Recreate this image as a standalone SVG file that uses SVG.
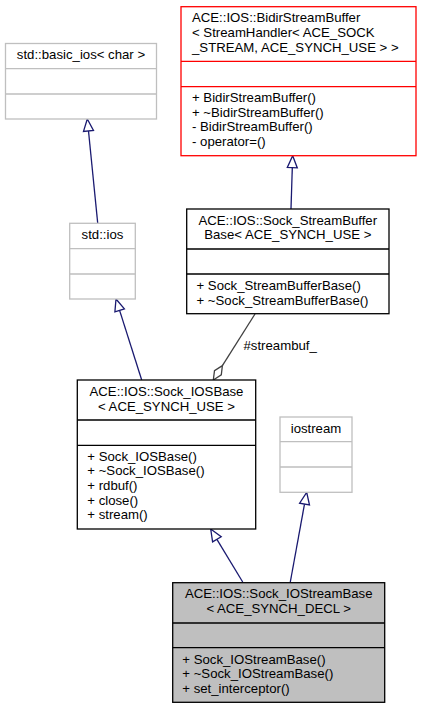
<svg xmlns="http://www.w3.org/2000/svg" width="421" height="709" viewBox="0 0 421 709">
<style>
text{font-family:"Liberation Sans",Arial,sans-serif;font-size:13.2px;fill:#000}
.c{text-anchor:middle}
.box{fill:#fff;stroke:#000;stroke-width:1.3}
.gray{fill:#fff;stroke:#bfbfbf;stroke-width:1.3}
.red{fill:#fff;stroke:#ff0000;stroke-width:1.3}
.cur{fill:#bfbfbf;stroke:#000;stroke-width:1.3}
.inh{stroke:#191970;stroke-width:1.3;fill:none}
.inhh{stroke:#191970;stroke-width:1.3;fill:#fff}
.agg{stroke:#404040;stroke-width:1.3;fill:none}
.aggh{stroke:#404040;stroke-width:1.3;fill:#fff}
</style>
<rect width="421" height="709" fill="#fff"/>
<g id="edges">
<path class="inh" d="M97.7,223 L88.5,131"/>
<polygon class="inhh" points="87.3,119 93.5,130.4 83.5,131.4"/>
<path class="inh" d="M291,209 L292.3,167.7"/>
<polygon class="inhh" points="292.7,155.7 297.3,167.9 287.3,167.5"/>
<path class="inh" d="M141.7,380 L119.6,310.4"/>
<polygon class="inhh" points="116,299 124.4,308.9 114.9,311.9"/>
<path class="inh" d="M242.7,582 L216.9,539.3"/>
<polygon class="inhh" points="210.7,529 221.2,536.7 212.6,541.9"/>
<path class="inh" d="M290.3,582 L304.5,504.1"/>
<polygon class="inhh" points="306.7,492.3 309.5,505 299.6,503.2"/>
<path class="agg" d="M255,314 L222.4,365.6"/>
<polygon class="aggh" points="213.3,380 214.5,370.7 222.4,365.6 221.3,374.9"/>
<text x="243.5" y="350">#streambuf_</text>
</g>
<g id="basic_ios">
<rect class="gray" x="5.5" y="43.5" width="151" height="75.5"/>
<path class="gray" d="M5.5,68.7 H156.5 M5.5,94 H156.5"/>
<text class="c" x="81" y="59">std::basic_ios&lt; char &gt;</text>
</g>
<g id="bidir">
<rect class="red" x="181" y="6.7" width="235" height="149"/>
<path class="red" d="M181,61.3 H416 M181,86.7 H416"/>
<text x="192" y="21.5">ACE::IOS::BidirStreamBuffer</text>
<text x="192" y="36.5">&lt; StreamHandler&lt; ACE_SOCK</text>
<text x="192" y="51.5">_STREAM, ACE_SYNCH_USE &gt; &gt;</text>
<text x="192" y="102">+ BidirStreamBuffer()</text>
<text x="192" y="116.7">+ ~BidirStreamBuffer()</text>
<text x="192" y="131.3">- BidirStreamBuffer()</text>
<text x="192" y="146">- operator=()</text>
</g>
<g id="sock_streambufferbase">
<rect class="box" x="186.7" y="209" width="202.3" height="104.7"/>
<path class="box" d="M186.7,249 H389 M186.7,274 H389"/>
<text class="c" x="287.8" y="224.5">ACE::IOS::Sock_StreamBuffer</text>
<text class="c" x="287.8" y="239">Base&lt; ACE_SYNCH_USE &gt;</text>
<text x="196.5" y="289.5">+ Sock_StreamBufferBase()</text>
<text x="196.5" y="304.5">+ ~Sock_StreamBufferBase()</text>
</g>
<g id="std_ios">
<rect class="gray" x="69.7" y="223.3" width="65.6" height="75.7"/>
<path class="gray" d="M69.7,248.7 H135.3 M69.7,274 H135.3"/>
<text class="c" x="102.5" y="239">std::ios</text>
</g>
<g id="sock_iosbase">
<rect class="box" x="77.3" y="380" width="178.4" height="149"/>
<path class="box" d="M77.3,420 H255.7 M77.3,445.3 H255.7"/>
<text class="c" x="166.5" y="395.5">ACE::IOS::Sock_IOSBase</text>
<text class="c" x="166.5" y="410.5">&lt; ACE_SYNCH_USE &gt;</text>
<text x="87.3" y="460.7">+ Sock_IOSBase()</text>
<text x="87.3" y="475.4">+ ~Sock_IOSBase()</text>
<text x="87.3" y="490">+ rdbuf()</text>
<text x="87.3" y="504.7">+ close()</text>
<text x="87.3" y="519.3">+ stream()</text>
</g>
<g id="iostream">
<rect class="gray" x="280" y="417" width="72" height="75.3"/>
<path class="gray" d="M280,441.7 H352 M280,467 H352"/>
<text class="c" x="316" y="432.5">iostream</text>
</g>
<g id="sock_iostreambase">
<rect class="cur" x="172.7" y="582.7" width="212" height="119.6"/>
<path class="cur" d="M172.7,623 H384.7 M172.7,647.7 H384.7"/>
<text class="c" x="278.7" y="598.3">ACE::IOS::Sock_IOStreamBase</text>
<text class="c" x="278.7" y="612.7">&lt; ACE_SYNCH_DECL &gt;</text>
<text x="182.3" y="663.5">+ Sock_IOStreamBase()</text>
<text x="182.3" y="678">+ ~Sock_IOStreamBase()</text>
<text x="182.3" y="692.5">+ set_interceptor()</text>
</g>
</svg>
